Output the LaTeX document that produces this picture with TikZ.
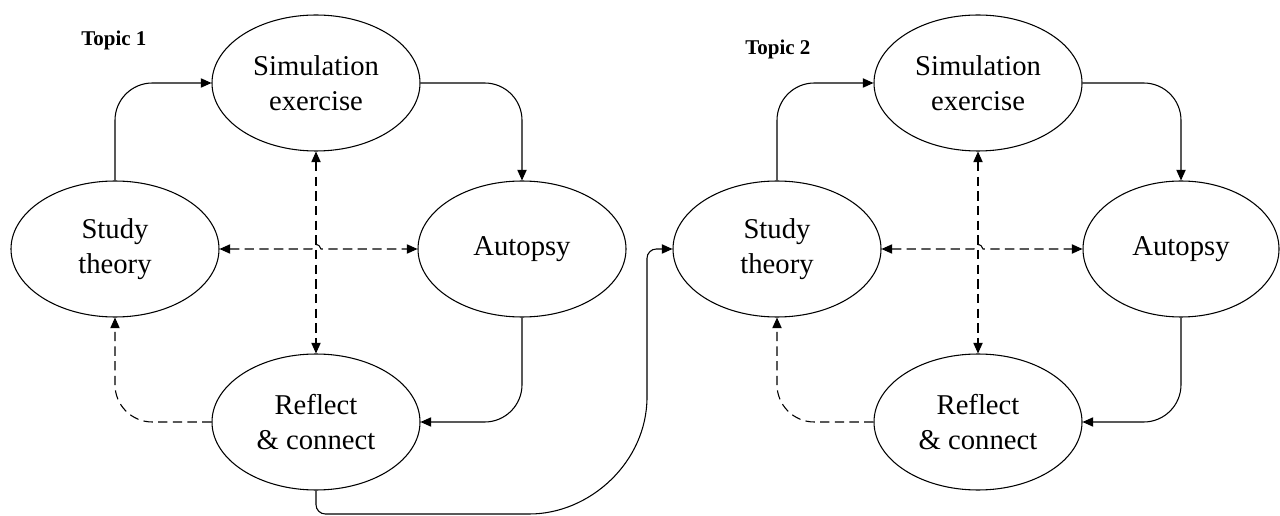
\documentclass[tikz,border=0pt]{standalone}
\usepackage{fontspec}
\setmainfont{Liberation Serif}
\usetikzlibrary{shapes.geometric,arrows.meta}
\begin{document}
\begin{tikzpicture}[x=0.75pt,y=-0.75pt,
  box/.style={ellipse,draw,line width=0.8pt,minimum width=156pt,minimum height=102pt,inner sep=0pt,align=center,font=\fontsize{21.5}{26}\selectfont},
  tip/.style={-{Triangle[length=8pt,width=7pt]}},
  link/.style={line width=0.8pt,tip},
  dlink/.style={link,dash pattern=on 7pt off 4pt},
  both/.style={line width=0.8pt,dash pattern=on 7pt off 4pt,{Triangle[length=8pt,width=7pt]}-{Triangle[length=8pt,width=7pt]}},
  topic/.style={font=\fontsize{15.75}{18}\selectfont\bfseries,inner sep=0pt,anchor=base west},
  corner/.style={rounded corners=28pt}]
\useasboundingbox (0,0) rectangle (1280,516);

% Topic 1
\node[topic] (t1) at (81,46) {Topic 1};
\node[box] (si1) at (316,83) {Simulation\\exercise};
\node[box] (st1) at (115,249) {Study\\theory};
\node[box] (au1) at (522,249) {Autopsy};
\node[box] (re1) at (316,422) {Reflect\\\& connect};

\draw[link,corner] (st1.north) |- (si1.west);
\draw[link,corner] (si1.east) -| (au1.north);
\draw[link,corner] (au1.south) |- (re1.east);
\draw[dlink,corner] (re1.west) -| (st1.south);
\draw[both] (si1.south) -- (re1.north);
\coordinate (h1a) at (312,249);
\coordinate (h1b) at (321,249);
\draw[both] (st1.east) -- (h1a) .. controls (314,243) and (319,243) .. (h1b) -- (au1.west);

% Topic 2
\node[topic] (t2) at (745,55) {Topic 2};
\node[box] (si2) at (978,83) {Simulation\\exercise};
\node[box] (st2) at (777,249) {Study\\theory};
\node[box,minimum width=147pt] (au2) at (1181,249) {Autopsy};
\node[box] (re2) at (978,422) {Reflect\\\& connect};

\draw[link,corner] (st2.north) |- (si2.west);
\draw[link,corner] (si2.east) -| (au2.north);
\draw[link,corner] (au2.south) |- (re2.east);
\draw[dlink,corner] (re2.west) -| (st2.south);
\draw[both] (si2.south) -- (re2.north);
\coordinate (h2a) at (974,249);
\coordinate (h2b) at (983,249);
\draw[both] (st2.east) -- (h2a) .. controls (976,243) and (981,243) .. (h2b) -- (au2.west);

% link from topic 1 to topic 2
\coordinate (b1) at (316,514);
\coordinate (b2) at (520,514);
\coordinate (b3) at (647,397);
\draw[link] (re1.south) [rounded corners=7pt] -- (b1) -- (b2) [sharp corners]
  .. controls (590,514) and (647,462) .. (b3) [rounded corners=7pt] |- (st2.west);
\end{tikzpicture}
\end{document}
